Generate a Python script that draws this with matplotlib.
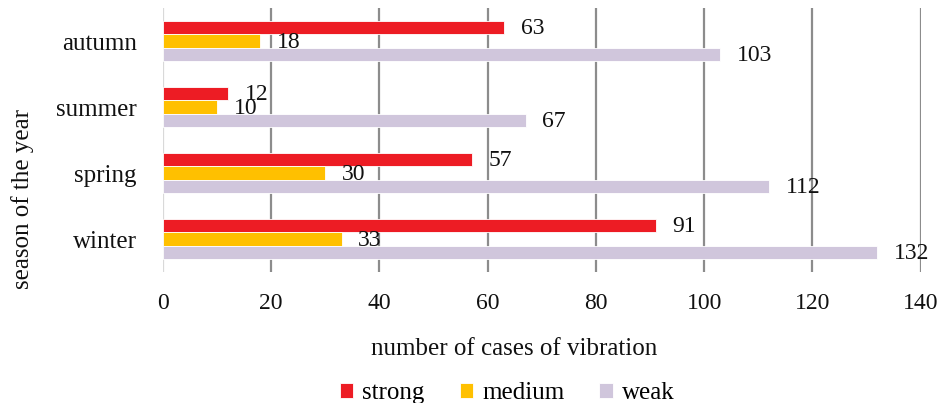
import matplotlib.pyplot as plt
import numpy as np

# vibration cases per season, split by strength
seasons = ["winter", "spring", "summer", "autumn"]
strong = [91, 57, 12, 63]
medium = [33, 30, 10, 18]
weak = [132, 112, 67, 103]
series_names = ["strong", "medium", "weak"]
series_colors = ["#ED1C24", "#FFC000", "#D0C6DC"]
x_ticks = [0, 20, 40, 60, 80, 100, 120, 140]

plt.rcParams["font.family"] = ["Liberation Serif", "DejaVu Serif"]

fig = plt.figure(figsize=(9.46, 4.03), dpi=100)
ax = fig.add_axes([0.1723, 0.325, 0.801, 0.655])

y = np.arange(len(seasons))
h = 0.205
for i, (vals, name, color) in enumerate(zip([strong, medium, weak], series_names, series_colors)):
    pos = y + (1 - i) * h
    ax.barh(pos, vals, height=h, color=color, edgecolor="white", linewidth=0.6,
            label=name, zorder=3)
    for p, v in zip(pos, vals):
        ax.annotate(str(v), (v, p), xytext=(12, -1), textcoords="offset points",
                    ha="left", va="center", fontsize=17, color="#111111", zorder=4)

ax.set_xlim(0, 140)
ax.set_ylim(-0.5, 3.5)
ax.set_xticks(x_ticks)
ax.set_yticks(y)
ax.set_yticklabels(seasons)
ax.tick_params(axis="both", length=0, colors="#111111")
ax.tick_params(axis="x", pad=15, labelsize=17)
ax.tick_params(axis="y", pad=19, labelsize=18)

# vertical gridlines; the zero line is lighter
for t in x_ticks:
    ax.axvline(t, color="#D9D9D9" if t == 0 else "#8C8C8C", linewidth=1.6, zorder=1)

for s in ax.spines.values():
    s.set_visible(False)

fig.text(0.0235, 0.505, "season of the year", rotation=90, ha="center", va="center",
         fontsize=18, color="#111111")
fig.text(0.544, 0.135, "number of cases of vibration", ha="center", va="center",
         fontsize=18, color="#111111")

fig.legend(loc="center", bbox_to_anchor=(0.536, 0.025), ncol=3, frameon=False,
           fontsize=18, handlelength=0.55, handleheight=0.55, handletextpad=0.35,
           columnspacing=1.4, borderpad=0)

fig.savefig("out.png", dpi=100)
